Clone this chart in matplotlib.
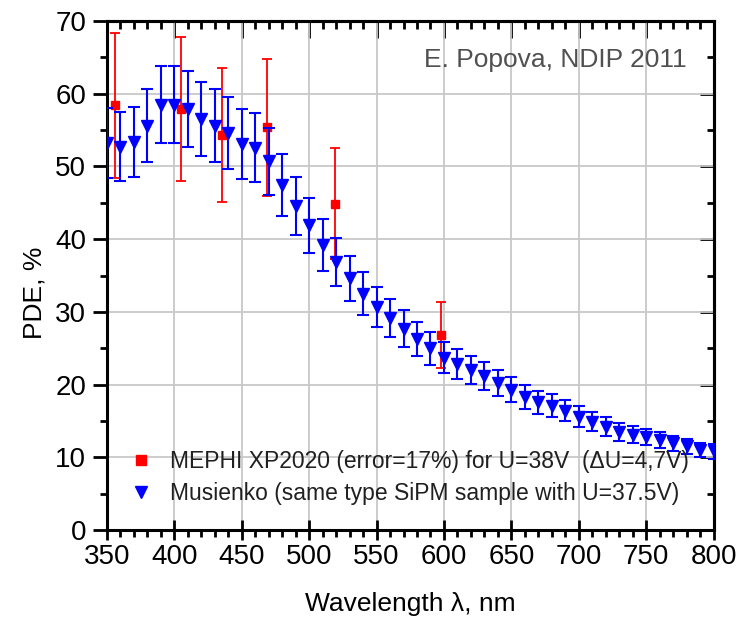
import numpy as np
import matplotlib
matplotlib.use('Agg')
import matplotlib.pyplot as plt
from matplotlib.lines import Line2D
from matplotlib.ticker import MultipleLocator

plt.rcParams['font.family'] = ['Liberation Sans', 'DejaVu Sans']

# MEPHI XP2020, U=38V, error 17%
mephi_wl = [356, 405, 435, 469, 519, 598]
mephi_pde = [58.4, 57.9, 54.3, 55.4, 44.9, 26.8]
mephi_err_frac = 0.17

# Musienko, same type SiPM sample at U=37.5V, error ~9%
mus_wl = [350, 360, 370, 380, 390, 400, 410, 420, 430, 440,
          450, 460, 470, 480, 490, 500, 510, 520, 530, 540,
          550, 560, 570, 580, 590, 600, 610, 620, 630, 640,
          650, 660, 670, 680, 690, 700, 710, 720, 730, 740,
          750, 760, 770, 780, 790, 800]
mus_pde = [53.2, 52.7, 53.4, 55.6, 58.5, 58.5, 57.9, 56.5, 55.6, 54.6,
           53.1, 52.6, 50.7, 47.4, 44.6, 41.9, 39.2, 36.9, 34.6, 32.5,
           30.7, 29.1, 27.7, 26.3, 25.0, 23.7, 22.8, 22.0, 21.2, 20.2,
           19.3, 18.3, 17.6, 17.1, 16.4, 15.6, 14.9, 14.2, 13.5, 13.1,
           12.8, 12.4, 11.9, 11.5, 11.0, 10.8]
mus_err_frac = 0.09

labels = ['MEPHI XP2020 (error=17%) for U=38V  (\u0394U=4,7V)',
          'Musienko (same type SiPM sample with U=37.5V)']

mephi_err = np.array(mephi_pde) * mephi_err_frac
mus_err = np.array(mus_pde) * mus_err_frac

fig = plt.figure(figsize=(7.5, 6.26), dpi=100)
ax = fig.add_axes([107 / 750, 1 - 530 / 626, 606.5 / 750, 509 / 626])

ax.errorbar(mephi_wl, mephi_pde, yerr=mephi_err, fmt='s', color='red',
            ms=6, elinewidth=1.3, capsize=3.5, capthick=1.3, zorder=3)
ax.errorbar(mus_wl, mus_pde, yerr=mus_err, fmt='v', color='blue',
            ms=8.5, elinewidth=1.5, capsize=4, capthick=1.5, zorder=4)

ax.set_xlim(350, 800)
ax.set_ylim(0, 70)
ax.grid(True, color='#c8c8c8', lw=1.3)
ax.set_axisbelow(True)

ax.xaxis.set_major_locator(MultipleLocator(50))
ax.xaxis.set_minor_locator(MultipleLocator(10))
ax.yaxis.set_major_locator(MultipleLocator(10))
ax.yaxis.set_minor_locator(MultipleLocator(5))
ax.tick_params(axis='x', which='major', direction='inout', length=14, width=2,
               labelsize=20, pad=3)
ax.tick_params(axis='x', which='minor', direction='out', length=5, width=2)
ax.tick_params(axis='y', which='major', direction='out', length=10, width=2,
               labelsize=20, pad=5)
ax.tick_params(axis='y', which='minor', direction='out', length=5, width=2)
for sp in ax.spines.values():
    sp.set_linewidth(2.2)

# mirrored ticks on top and right, pointing inward
top = ax.secondary_xaxis('top')
top.xaxis.set_major_locator(MultipleLocator(50))
top.xaxis.set_minor_locator(MultipleLocator(10))
top.tick_params(which='major', direction='in', length=12, width=2, labeltop=False)
top.tick_params(which='minor', direction='in', length=6, width=2)
right = ax.secondary_yaxis('right')
right.yaxis.set_major_locator(MultipleLocator(10))
right.yaxis.set_minor_locator(MultipleLocator(5))
right.tick_params(which='major', direction='in', length=10, width=2, labelright=False)
right.tick_params(which='minor', direction='in', length=5, width=2)
for s in (top, right):
    for sp in s.spines.values():
        sp.set_linewidth(2.2)

ax.set_xlabel('Wavelength \u03bb, nm', fontsize=19)
ax.set_ylabel('PDE, %', fontsize=19)
ax.xaxis.set_label_coords(0.5, -0.122)
ax.yaxis.set_label_coords(-0.10, 0.466)

ax.text(0.955, 0.923, 'E. Popova, NDIP 2011', transform=ax.transAxes,
        ha='right', va='center', fontsize=19, color='#505050')

handles = [Line2D([], [], ls='none', marker='s', color='red', ms=7),
           Line2D([], [], ls='none', marker='v', color='blue', ms=9)]
leg = ax.legend(handles, labels, loc='upper left', bbox_to_anchor=(0.036, 0.158),
                frameon=False, fontsize=16.5, handlelength=1.1, handletextpad=0.7,
                labelspacing=0.4, borderpad=0, borderaxespad=0)
for t in leg.get_texts():
    t.set_color('#202020')

fig.savefig('out.png', dpi=100)
